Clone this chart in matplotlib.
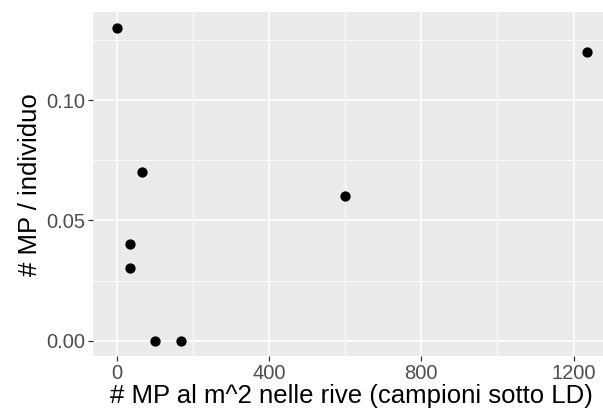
import matplotlib
matplotlib.use("Agg")
import matplotlib.pyplot as plt
from matplotlib.ticker import MultipleLocator

plt.rcParams['font.family'] = ['Liberation Sans', 'DejaVu Sans']

mp_m2 = [0, 68, 35, 35, 101, 168, 601, 1235]
mp_ind = [0.13, 0.07, 0.04, 0.03, 0.0, 0.0, 0.06, 0.12]
x_ticks = [0, 400, 800, 1200]
y_ticks = [0.00, 0.05, 0.10]
y_tick_labels = ["0.00", "0.05", "0.10"]

W, H = 603, 416
fig = plt.figure(figsize=(W / 100, H / 100), dpi=100)
left, right, top, bottom = 93, 610.4, 12.3, 356.3
ax = fig.add_axes([left / W, 1 - bottom / H, (right - left) / W, (bottom - top) / H])
ax.set_facecolor('#EBEBEB')
for s in ax.spines.values():
    s.set_visible(False)

ax.set_xlim(-61.75, 1296.75)
ax.set_ylim(-0.0065, 0.1365)
ax.set_xticks(x_ticks)
ax.set_xticklabels([str(t) for t in x_ticks])
ax.set_yticks(y_ticks)
ax.set_yticklabels(y_tick_labels)
ax.xaxis.set_minor_locator(MultipleLocator(200))
ax.yaxis.set_minor_locator(MultipleLocator(0.025))
ax.grid(True, which='major', color='white', linewidth=1.2)
ax.grid(True, which='minor', color='white', linewidth=0.6)
ax.set_axisbelow(True)
ax.tick_params(which='major', length=3.6, width=0.9, color='#333333',
               labelcolor='#4D4D4D', labelsize=14.5, pad=2)
ax.tick_params(which='minor', length=0)

ax.scatter(mp_m2, mp_ind, s=55, color='black', zorder=3, linewidths=0)

ax.set_xlabel('# MP al m^2 nelle rive (campioni sotto LD)', fontsize=18.5, labelpad=1)
ax.set_ylabel('# MP / individuo', fontsize=18.5, labelpad=3)

fig.savefig('out.png', dpi=100)
